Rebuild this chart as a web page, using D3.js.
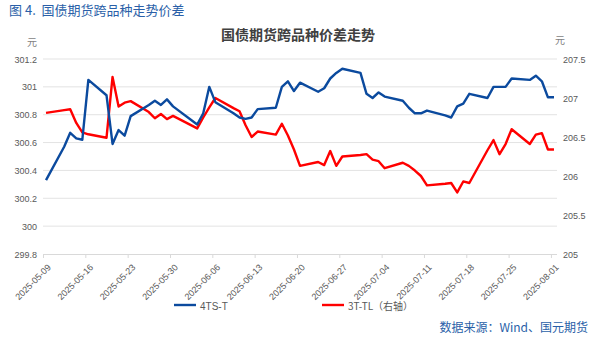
<!DOCTYPE html>
<html><head><meta charset="utf-8">
<script src="https://cdn.jsdelivr.net/npm/d3@7"></script>
<style>
body{margin:0;background:#fff;}
svg{display:block;font-family:"Noto Sans CJK SC","Microsoft YaHei",sans-serif;}
</style></head>
<body><svg id="c" width="594" height="341"></svg>
<script>
const dates = ["2025-05-09","2025-05-12","2025-05-13","2025-05-14","2025-05-15","2025-05-16",
"2025-05-19","2025-05-20","2025-05-21","2025-05-22","2025-05-23",
"2025-05-26","2025-05-27","2025-05-28","2025-05-29","2025-05-30",
"2025-06-03","2025-06-04","2025-06-05","2025-06-06",
"2025-06-09","2025-06-10","2025-06-11","2025-06-12","2025-06-13",
"2025-06-16","2025-06-17","2025-06-18","2025-06-19","2025-06-20",
"2025-06-23","2025-06-24","2025-06-25","2025-06-26","2025-06-27",
"2025-06-30","2025-07-01","2025-07-02","2025-07-03","2025-07-04",
"2025-07-07","2025-07-08","2025-07-09","2025-07-10","2025-07-11",
"2025-07-14","2025-07-15","2025-07-16","2025-07-17","2025-07-18",
"2025-07-21","2025-07-22","2025-07-23","2025-07-24","2025-07-25",
"2025-07-28","2025-07-29","2025-07-30","2025-07-31","2025-08-01"];
const ts_t = [300.33,300.57,300.67,300.63,300.62,301.05,
300.94,300.59,300.69,300.65,300.79,
300.87,300.90,300.87,300.91,300.86,
300.73,300.81,301.00,300.89,
300.81,300.78,300.77,300.78,300.84,
300.85,301.00,301.04,300.97,301.03,
300.965,300.99,301.06,301.10,301.13,
301.10,300.95,300.92,300.96,300.93,
300.90,300.85,300.81,300.81,300.83,
300.795,300.78,300.86,300.88,300.95,
300.92,301.00,301.00,301.00,301.06,
301.05,301.08,301.04,300.925,300.925];
const t_tl = [206.81,206.845,206.855,206.68,206.56,206.535,
206.49,207.27,206.89,206.94,206.96,
206.82,206.74,206.795,206.73,206.77,
206.61,206.75,206.88,207.00,
206.87,206.83,206.65,206.50,206.57,
206.53,206.67,206.52,206.34,206.13,
206.18,206.14,206.32,206.13,206.25,
206.27,206.28,206.21,206.19,206.10,
206.17,206.13,206.07,206.00,205.88,
205.90,205.91,205.79,205.93,205.91,
206.33,206.46,206.28,206.41,206.60,
206.41,206.53,206.55,206.34,206.34];
const leftTicks = [299.8,300,300.2,300.4,300.6,300.8,301,301.2];
const rightTicks = [205,205.5,206,206.5,207,207.5];
const xTickLabels = ["2025-05-09","2025-05-16","2025-05-23","2025-05-30","2025-06-06","2025-06-13","2025-06-20","2025-06-27","2025-07-04","2025-07-11","2025-07-18","2025-07-25","2025-08-01"];

const svg = d3.select("#c");
const parse = d3.utcParse("%Y-%m-%d");
const day = 864e5;
const L=43, R=557, T=59, B=254;
const x = d3.scaleUtc().domain([parse("2025-05-09"), parse("2025-08-02")]).range([L,R]);
const yL = d3.scaleLinear().domain([299.8,301.2]).range([B,T]);
const yR = d3.scaleLinear().domain([205,207.5]).range([B,T]);
const xc = d => new Date(parse(d).getTime()+day/2);

// titles
svg.append("text").attr("x",9).attr("y",15).attr("fill","#2a5fa8").attr("font-size",13)
  .style("white-space","pre").text("图 4.  国债期货跨品种走势价差");
svg.append("text").attr("x",298).attr("y",40).attr("text-anchor","middle").attr("fill","#404040").attr("font-size",14).attr("font-weight","bold").text("国债期货跨品种价差走势");
svg.append("text").attr("x",27).attr("y",46).attr("fill","#7f7f7f").attr("font-size",10).text("元");
svg.append("text").attr("x",555).attr("y",44).attr("fill","#7f7f7f").attr("font-size",10).text("元");

// grid
svg.append("g").selectAll("line").data(leftTicks.slice(1)).join("line")
  .attr("x1",L).attr("x2",R).attr("y1",d=>yL(d)).attr("y2",d=>yL(d))
  .attr("stroke","#e3e3e3").attr("stroke-width",1);

// left axis labels
svg.append("g").selectAll("text").data(leftTicks).join("text")
  .attr("x",37).attr("y",d=>yL(d)+3.5).attr("text-anchor","end")
  .attr("fill","#595959").attr("font-size",9).attr("font-family","Liberation Sans, Arial, sans-serif")
  .text(d=>d3.format("")(+d.toFixed(1)));
// right axis labels
svg.append("g").selectAll("text").data(rightTicks).join("text")
  .attr("x",563).attr("y",d=>yR(d)+3.5).attr("text-anchor","start")
  .attr("fill","#595959").attr("font-size",9).attr("font-family","Liberation Sans, Arial, sans-serif")
  .text(d=>d3.format("")(+d.toFixed(1)));

// x axis
const xa = svg.append("g").attr("transform",`translate(0,${B})`)
  .call(d3.axisBottom(x).tickValues(xTickLabels.map(parse)).tickSize(4).tickFormat(d3.utcFormat("%Y-%m-%d")));
xa.select(".domain").attr("stroke","#d9d9d9").attr("d",`M${L},0.5H${R}`);
xa.selectAll(".tick line").attr("stroke","#d9d9d9");
xa.selectAll(".tick text").attr("fill","#595959").attr("font-size",9)
  .attr("font-family","Liberation Sans, Arial, sans-serif")
  .attr("text-anchor","end").attr("dx",0).attr("dy",0)
  .attr("transform","translate(3,9) rotate(-45)");

// lines
const lineL = d3.line().x((d,i)=>x(xc(dates[i]))).y(d=>yL(d));
const lineR = d3.line().x((d,i)=>x(xc(dates[i]))).y(d=>yR(d));
svg.append("path").datum(t_tl).attr("d",lineR).attr("fill","none").attr("stroke","#ff0000").attr("stroke-width",2.4).attr("stroke-linejoin","round");
svg.append("path").datum(ts_t).attr("d",lineL).attr("fill","none").attr("stroke","#0b4a9e").attr("stroke-width",2.4).attr("stroke-linejoin","round");

// legend
svg.append("line").attr("x1",174).attr("x2",196).attr("y1",305).attr("y2",305).attr("stroke","#0b4a9e").attr("stroke-width",2.4);
svg.append("text").attr("x",200).attr("y",309.5).attr("fill","#595959").attr("font-size",10).attr("font-family","Liberation Sans, Arial, sans-serif").text("4TS-T");
svg.append("line").attr("x1",322).attr("x2",344).attr("y1",305).attr("y2",305).attr("stroke","#ff0000").attr("stroke-width",2.4);
svg.append("text").attr("x",348).attr("y",309.5).attr("fill","#595959").attr("font-size",10).text("3T-TL（右轴）");

// source
svg.append("text").attr("x",588).attr("y",332).attr("text-anchor","end").attr("fill","#2a5fa8").attr("font-size",12).text("数据来源：Wind、国元期货");
</script></body></html>
